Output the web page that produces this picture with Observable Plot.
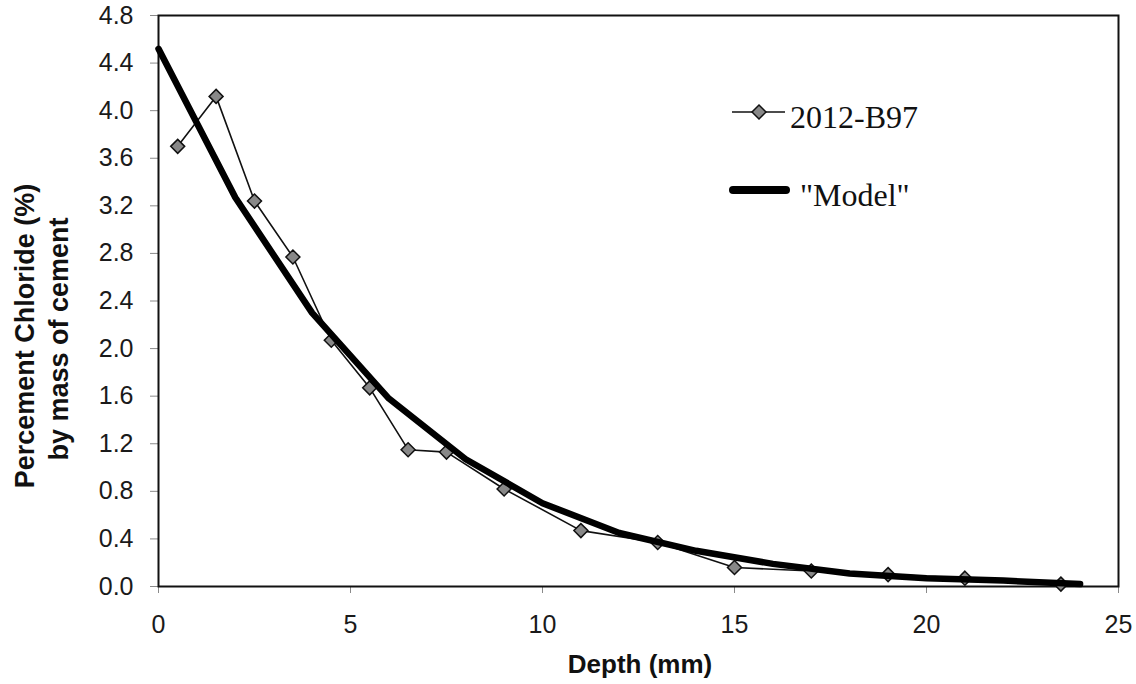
<!DOCTYPE html>
<html>
<head>
<meta charset="utf-8">
<script src="https://cdn.jsdelivr.net/npm/d3@7"></script>
<script src="https://cdn.jsdelivr.net/npm/@observablehq/plot@0.6"></script>
<style>
  html, body { margin: 0; padding: 0; background: #fff; }
  #chart { width: 1136px; height: 684px; position: relative; }
</style>
</head>
<body>
<div id="chart"></div>
<script>
// ---- Data ----
const seriesName = "2012-B97";
const modelName = "\"Model\"";
const depthData = [0.5, 1.5, 2.5, 3.5, 4.5, 5.5, 6.5, 7.5, 9, 11, 13, 15, 17, 19, 21, 23.5];
const chlorideData = [3.70, 4.12, 3.24, 2.77, 2.07, 1.67, 1.15, 1.13, 0.82, 0.47, 0.37, 0.16, 0.13, 0.10, 0.07, 0.02];
const depthModel = [0, 2, 4, 6, 8, 10, 12, 14, 16, 18, 20, 22, 24];
const chlorideModel = [4.52, 3.27, 2.30, 1.58, 1.07, 0.70, 0.45, 0.30, 0.19, 0.11, 0.07, 0.05, 0.02];
const xTicks = [0, 5, 10, 15, 20, 25];
const yTicks = [0, 0.4, 0.8, 1.2, 1.6, 2.0, 2.4, 2.8, 3.2, 3.6, 4.0, 4.4, 4.8];
const xTitle = "Depth (mm)";
const yTitleLines = ["Percement Chloride (%)", "by mass of cement"];

const measured = depthData.map((d, i) => ({depth: d, chloride: chlorideData[i]}));
const model = depthModel.map((d, i) => ({depth: d, chloride: chlorideModel[i]}));

const tickFont = "'Liberation Sans', Arial, sans-serif";

const chart = Plot.plot({
  width: 1136,
  height: 684,
  marginLeft: 158,
  marginRight: 18,
  marginTop: 15,
  marginBottom: 98,
  style: {fontFamily: tickFont, background: "#fff", color: "#1a1a1a"},
  x: {domain: [0, 25]},
  y: {domain: [0, 4.8]},
  marks: [
    Plot.axisX({ticks: xTicks, tickSize: 7, tickPadding: 22, fontSize: 25, stroke: "#8a8a8a", tickFormat: d3.format("d"), label: null}),
    Plot.axisY({ticks: yTicks, tickSize: 8, tickPadding: 17, fontSize: 25, stroke: "#8a8a8a", tickFormat: d3.format(".1f"), label: null}),
    Plot.frame({stroke: "#111", strokeWidth: 2}),
    Plot.line(measured, {x: "depth", y: "chloride", stroke: "#111", strokeWidth: 1.6}),
    Plot.dot(measured, {x: "depth", y: "chloride", symbol: "diamond2", r: 6.3, fill: "#888", stroke: "#111", strokeWidth: 1.5}),
    Plot.line(model, {x: "depth", y: "chloride", stroke: "#000", strokeWidth: 6.5, strokeLinecap: "round", strokeLinejoin: "round"}),
    Plot.text([xTitle], {frameAnchor: "bottom", textAnchor: "middle", lineAnchor: "middle", text: d => d, dx: 1.5, dy: 78.5, fontSize: 26, fontWeight: "bold", fill: "#111"}),
    Plot.text([yTitleLines[0]], {frameAnchor: "left", textAnchor: "middle", lineAnchor: "middle", text: d => d, rotate: -90, dx: -133, dy: 35, fontSize: 27, fontWeight: "bold", fill: "#111"}),
    Plot.text([yTitleLines[1]], {frameAnchor: "left", textAnchor: "middle", lineAnchor: "middle", text: d => d, rotate: -90, dx: -99, dy: 38, fontSize: 27, fontWeight: "bold", fill: "#111"})
  ]
});

document.getElementById("chart").appendChild(chart);

// ---- Legend (inside the plot area) ----
const svg = d3.select(chart);
const lg = svg.append("g")
  .attr("font-family", "'Liberation Serif', 'Times New Roman', serif")
  .attr("font-size", 32)
  .attr("text-anchor", "start")
  .attr("fill", "#111");
// item 1
lg.append("line").attr("x1", 732).attr("x2", 785).attr("y1", 112).attr("y2", 112).attr("stroke", "#111").attr("stroke-width", 1.6);
lg.append("path").attr("d", d3.symbol(d3.symbolDiamond2, Math.PI * 6.3 * 6.3)()).attr("transform", "translate(759,112)").attr("fill", "#888").attr("stroke", "#111").attr("stroke-width", 1.5);
lg.append("text").attr("x", 790).attr("y", 128).text(seriesName);
// item 2
lg.append("line").attr("x1", 733).attr("x2", 786).attr("y1", 190).attr("y2", 190).attr("stroke", "#000").attr("stroke-width", 8).attr("stroke-linecap", "round");
lg.append("text").attr("x", 800).attr("y", 206).text(modelName);
</script>
</body>
</html>
